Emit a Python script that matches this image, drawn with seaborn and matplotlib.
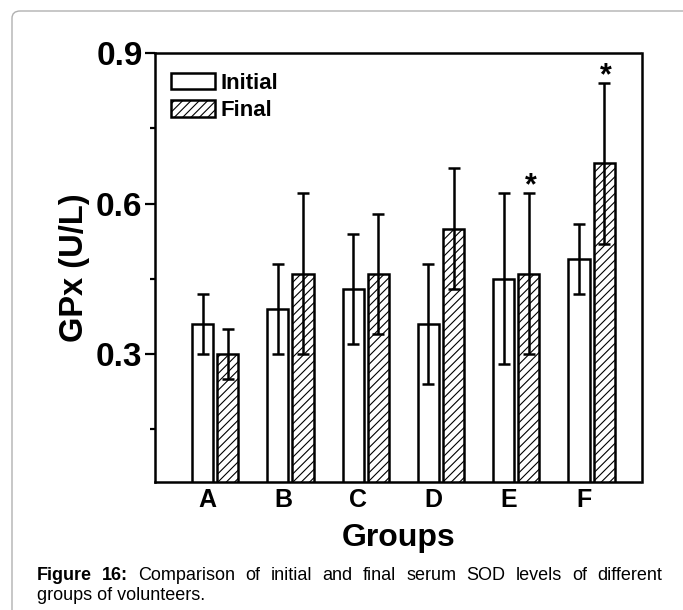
import seaborn as sns
import matplotlib.pyplot as plt
import matplotlib.patches as mpatches
from matplotlib.patches import FancyBboxPatch
import pandas as pd

# data
groups = ['A', 'B', 'C', 'D', 'E', 'F']
initial = [0.36, 0.39, 0.43, 0.36, 0.45, 0.49]
initial_err = [0.06, 0.09, 0.11, 0.12, 0.17, 0.07]
final = [0.30, 0.46, 0.46, 0.55, 0.46, 0.68]
final_err = [0.05, 0.16, 0.12, 0.12, 0.16, 0.16]
significant = ['E', 'F']

df = pd.DataFrame({
    'Group': groups * 2,
    'Phase': ['Initial'] * len(groups) + ['Final'] * len(groups),
    'Value': initial + final,
})

sns.set_style('ticks')
plt.rcParams['font.family'] = ['Liberation Sans', 'DejaVu Sans']
plt.rcParams['hatch.linewidth'] = 0.8
plt.rcParams['text.color'] = 'black'
plt.rcParams['axes.labelcolor'] = 'black'
plt.rcParams['xtick.color'] = 'black'
plt.rcParams['ytick.color'] = 'black'

fig = plt.figure(figsize=(6.83, 6.10), dpi=100)
ax = fig.add_axes([155 / 683, 1 - 482 / 610, 487 / 683, 429 / 610])

sns.barplot(data=df, x='Group', y='Value', hue='Phase', order=groups,
            hue_order=['Initial', 'Final'], palette=['white', 'white'],
            edgecolor='black', linewidth=1.8, width=0.667, gap=0.16,
            legend=False, ax=ax)

# hatch the final bars, add error bars
errs = [initial_err, final_err]
bar_conts = list(ax.containers)
for k, cont in enumerate(bar_conts):
    xs, ys = [], []
    for bar in cont:
        if k == 1:
            bar.set_hatch('////')
        xs.append(bar.get_x() + bar.get_width() / 2)
        ys.append(bar.get_height())
    ax.errorbar(xs, ys, yerr=errs[k], fmt='none', ecolor='black',
                elinewidth=1.8, capsize=4, capthick=1.8, zorder=5)
    if k == 1:
        for g, x, y, e in zip(groups, xs, ys, final_err):
            if g in significant:
                ax.text(x + 0.02, y + e - 0.016, '*', ha='center', va='bottom',
                        fontsize=22, fontweight='bold')

ax.set_xlim(-0.80, 5.67)
ax.set_ylim(0.045, 0.9)
ax.set_xticks([i - 0.1 for i in range(len(groups))])
ax.set_xticklabels(groups, fontsize=18, fontweight='bold')
ax.tick_params(axis='x', length=0, pad=4)
ax.set_yticks([0.3, 0.6, 0.9])
ax.set_yticks([0.15, 0.45, 0.75], minor=True)
ax.set_yticklabels(['0.3', '0.6', '0.9'], fontsize=24, fontweight='bold')
ax.tick_params(axis='y', which='major', direction='out', length=7, width=1.6, pad=2)
ax.tick_params(axis='y', which='minor', direction='out', length=3.5, width=1.6)

for side in ['left', 'right', 'top', 'bottom']:
    ax.spines[side].set_visible(True)
    ax.spines[side].set_linewidth(1.8)
    ax.spines[side].set_color('black')
ax.spines['top'].set_linestyle((0, (4, 1)))
ax.spines['bottom'].set_linestyle((0, (4, 1)))

ax.set_xlabel('Groups', fontsize=23, fontweight='bold')
ax.set_ylabel('GPx (U/L)', fontsize=23.5, fontweight='bold')
ax.xaxis.set_label_coords(0.5, -0.095)
ax.yaxis.set_label_coords(-0.133, 0.5)

handles = [
    mpatches.Patch(facecolor='white', edgecolor='black', linewidth=1.8, label='Initial'),
    mpatches.Patch(facecolor='white', edgecolor='black', linewidth=1.8, hatch='////', label='Final'),
]
ax.legend(handles=handles, loc='upper left', bbox_to_anchor=(0.015, 0.975),
          frameon=False, prop={'weight': 'bold', 'size': 16},
          handlelength=1.95, handleheight=0.75, handletextpad=0.25,
          labelspacing=0.3, borderpad=0.2, borderaxespad=0.2)

# page frame and caption
frame = FancyBboxPatch((12 / 683, -0.05), 1.2, 1 - 11 / 610 + 0.05,
                       boxstyle='round,pad=0,rounding_size=0.012',
                       transform=fig.transFigure, facecolor='none',
                       edgecolor='#b0b0b0', linewidth=1.0)
fig.patches.append(frame)

# justified first caption line
line1 = [('Figure', 'bold'), ('16:', 'bold'), ('Comparison', 'normal'),
         ('of', 'normal'), ('initial', 'normal'), ('and', 'normal'),
         ('final', 'normal'), ('serum', 'normal'), ('SOD', 'normal'),
         ('levels', 'normal'), ('of', 'normal'), ('different', 'normal')]
x0, x1 = 37, 662
y1 = 1 - 580 / 610
words = [fig.text(0, y1, w, fontsize=13, fontweight=fw, va='baseline')
         for w, fw in line1]
renderer = fig.canvas.get_renderer()
widths = [t.get_window_extent(renderer).width for t in words]
space = (x1 - x0 - sum(widths)) / (len(words) - 1)
xpos = x0
for t, wd in zip(words, widths):
    t.set_x(xpos / 683)
    xpos += wd + space
fig.text(x0 / 683, 1 - 600 / 610, 'groups of volunteers.', fontsize=13,
         va='baseline')

fig.savefig('out.png', dpi=100)
